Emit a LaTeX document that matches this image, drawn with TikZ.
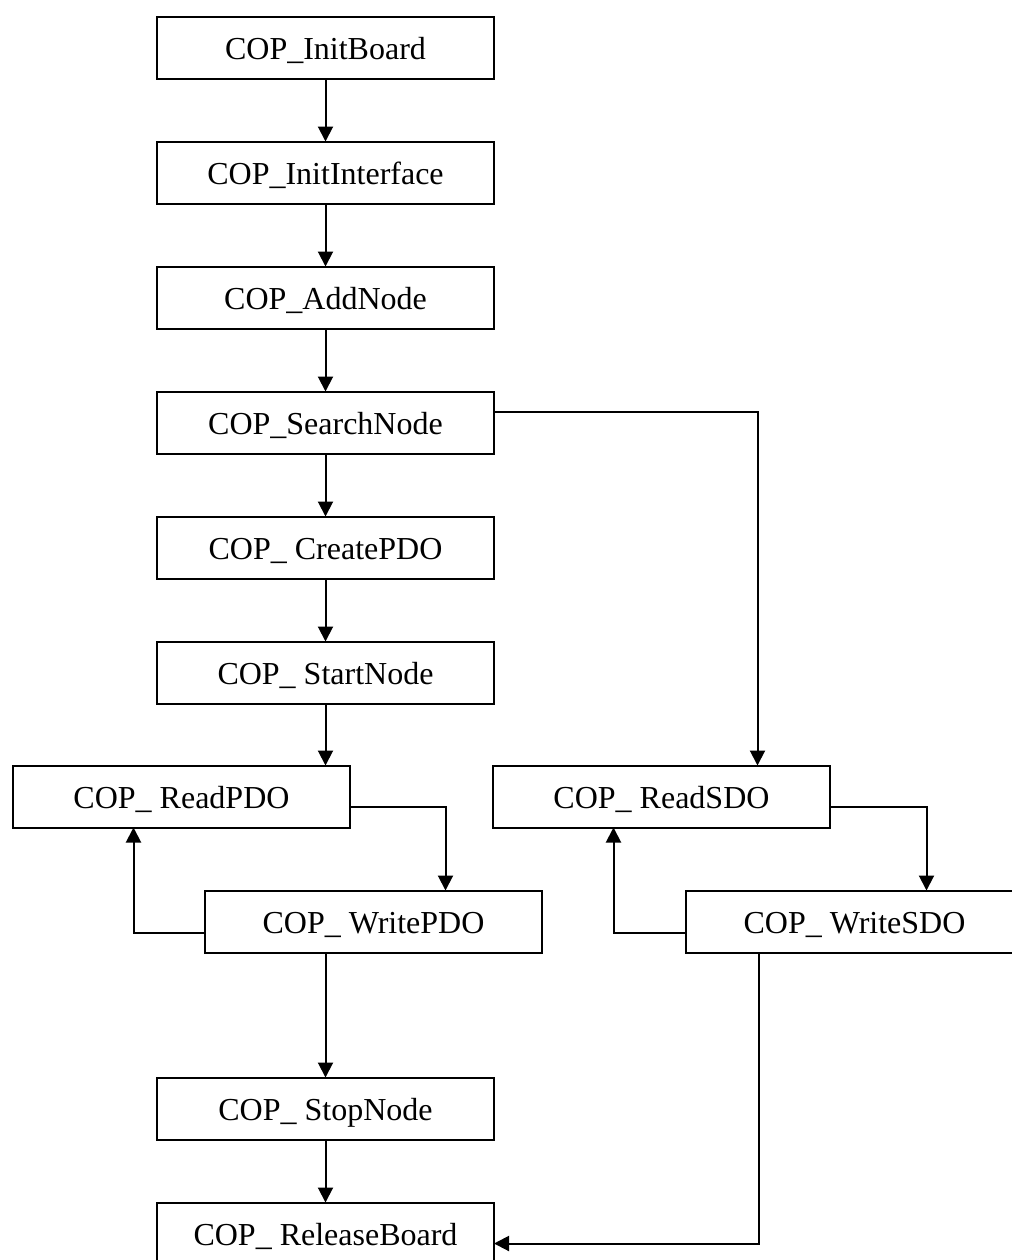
\documentclass[tikz,border=0pt]{standalone}
\usepackage{fontspec}
\setmainfont{Liberation Serif}
\usepackage{tikz}
\usetikzlibrary{arrows.meta,positioning,calc}
\tikzset{
	box/.style={draw, line width=1pt, minimum width=168.5pt, minimum height=31pt,
		inner sep=0pt, outer sep=0pt, align=center, text height=12.4pt, text depth=0pt,
		font=\fontsize{16pt}{19pt}\selectfont},
	arrow/.style={-{Triangle[length=7.5pt,width=7.5pt]}, line width=1pt},
	link/.style={line width=1pt}
}

\begin{document}
\begin{tikzpicture}
	
	\useasboundingbox (0pt,0pt) rectangle (506pt,-630pt);
	
	%% -- Main column
	\node[box] (initboard) at (162.75pt,-23.75pt) {COP\_InitBoard};
	\node[box, below=31.5pt of initboard] (initif) {COP\_InitInterface};
	\node[box, below=31.5pt of initif] (addnode) {COP\_AddNode};
	\node[box, below=31.5pt of addnode] (search) {COP\_SearchNode};
	\node[box, below=31.5pt of search] (createpdo) {COP\_ CreatePDO};
	\node[box, below=31.5pt of createpdo] (start) {COP\_ StartNode};
	
	%% -- PDO loop
	\node[box, below=31pt of start, xshift=-72pt] (rpdo) {COP\_ ReadPDO};
	\node[box, below=31.5pt of rpdo, xshift=96pt] (wpdo) {COP\_ WritePDO};
	
	%% -- SDO loop
	\node[box, right=71.5pt of rpdo] (rsdo) {COP\_ ReadSDO};
	\node[box, right=72pt of wpdo] (wsdo) {COP\_ WriteSDO};
	
	%% -- End of the chain
	\node[box, below=62.5pt of wpdo, xshift=-24pt] (stop) {COP\_ StopNode};
	\node[box, below=31.5pt of stop] (release) {COP\_ ReleaseBoard};
	
	%% -- Straight arrows
	\draw[arrow] (initboard) -- (initif);
	\draw[arrow] (initif) -- (addnode);
	\draw[arrow] (addnode) -- (search);
	\draw[arrow] (search) -- (createpdo);
	\draw[arrow] (createpdo) -- (start);
	\draw[arrow] (start.south) -- (start.south |- rpdo.north);
	\draw[arrow] (wpdo.south -| stop.north) -- (stop.north);
	\draw[arrow] (stop) -- (release);
	
	%% -- Elbow arrows
	\draw[arrow] ([yshift=5.25pt]search.east) -| ([xshift=48pt]rsdo.north);
	\draw[arrow] ([yshift=-5.25pt]rpdo.east) -| ([xshift=36pt]wpdo.north);
	\draw[arrow] ([yshift=-5.5pt]wpdo.west) -| ([xshift=-24pt]rpdo.south);
	\draw[arrow] ([yshift=-5.25pt]rsdo.east) -| ([xshift=36pt]wsdo.north);
	\draw[arrow] ([yshift=-5.5pt]wsdo.west) -| ([xshift=-24pt]rsdo.south);
	\draw[arrow] ([xshift=-48pt]wsdo.south) |- ([yshift=-5pt]release.east);
	
\end{tikzpicture}
\end{document}
